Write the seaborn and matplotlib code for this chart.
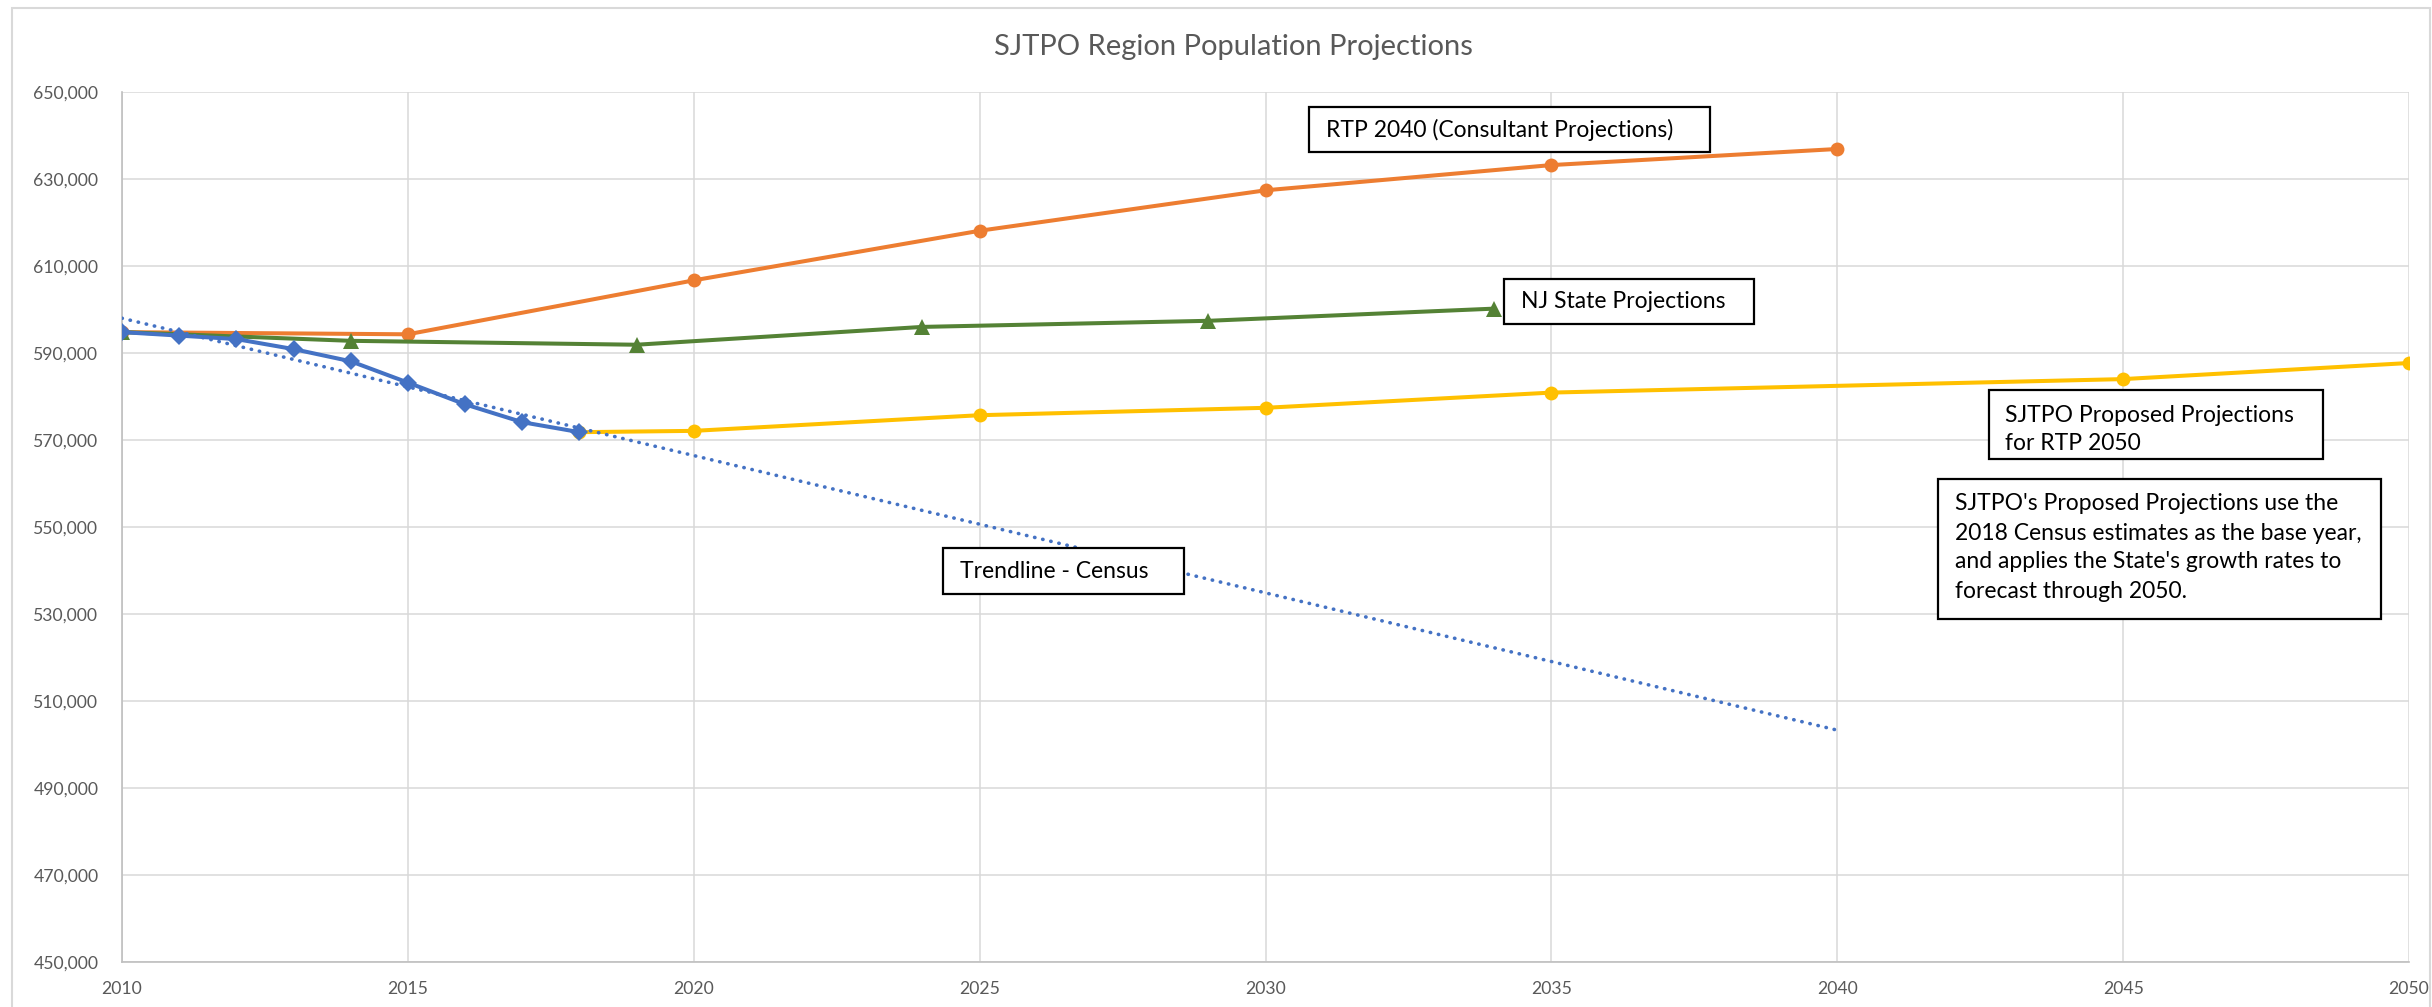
import numpy as np
import pandas as pd
import matplotlib
matplotlib.use("Agg")
import matplotlib.pyplot as plt
import matplotlib.patches as patches
import seaborn as sns

# --- data ---
census_years = [2010, 2011, 2012, 2013, 2014, 2015, 2016, 2017, 2018]
census_pop = [594800, 594000, 593200, 590900, 588100, 583200, 578200, 574100, 571800]

rtp_years = [2010, 2015, 2020, 2025, 2030, 2035, 2040]
rtp_pop = [594800, 594300, 606700, 618100, 627400, 633200, 636900]

nj_years = [2010, 2014, 2019, 2024, 2029, 2034]
nj_pop = [594800, 592800, 591900, 596000, 597400, 600200]

sjtpo_years = [2018, 2020, 2025, 2030, 2035, 2045, 2050]
sjtpo_pop = [571800, 572100, 575700, 577400, 580900, 584000, 587700]

trend_years = [2010, 2040]

title = "SJTPO Region Population Projections"
y_ticks = list(range(450000, 650001, 20000))
x_ticks = list(range(2010, 2051, 5))

W, H = 2432, 1007
GRAY = "#595959"

sns.set_theme(style="white")
plt.rcParams['font.family'] = ['Lato', 'DejaVu Sans']

fig = plt.figure(figsize=(W / 100, H / 100), dpi=100)


def fx(px):
    return px / W


def fy(py):
    return 1 - py / H


ax = fig.add_axes([fx(122), fy(962), fx(2409) - fx(122), fy(92) - fy(962)])

blue, orange, green, yellow = "#4472C4", "#ED7D31", "#548235", "#FFC000"

# trendline: linear fit of census estimates
coef = np.polyfit(census_years, census_pop, 1)
trend = pd.DataFrame({"year": trend_years, "pop": np.polyval(coef, trend_years)})
ax.plot(trend["year"], trend["pop"], color=blue, lw=2.6, linestyle=(0, (0.1, 2.2)),
        dash_capstyle="round", zorder=6)

sns.lineplot(x=rtp_years, y=rtp_pop, ax=ax, color=orange, lw=2.9, marker="o",
             markersize=10, markeredgewidth=0, zorder=3)
sns.lineplot(x=nj_years, y=nj_pop, ax=ax, color=green, lw=2.9, marker="^",
             markersize=11, markeredgewidth=0, zorder=4)
sns.lineplot(x=sjtpo_years, y=sjtpo_pop, ax=ax, color=yellow, lw=2.9, marker="o",
             markersize=10, markeredgewidth=0, zorder=4)
sns.lineplot(x=census_years, y=census_pop, ax=ax, color=blue, lw=2.9, marker="D",
             markersize=9, markeredgewidth=0, zorder=5)

ax.set_xlim(2010, 2050)
ax.set_ylim(450000, 650000)
ax.set_xticks(x_ticks)
ax.set_xticks(range(2010, 2051), minor=True)
ax.set_yticks(y_ticks)
ax.set_yticklabels([f"{v:,}" for v in y_ticks])
ax.set_xticklabels([str(v) for v in x_ticks])
ax.grid(True, which="major", color="#d9d9d9", lw=1.1)
ax.set_axisbelow(True)
for s in ["top", "right"]:
    ax.spines[s].set_visible(False)
for s in ["left", "bottom"]:
    ax.spines[s].set_color("#bfbfbf")
    ax.spines[s].set_linewidth(1.2)
ax.tick_params(axis="y", length=0, pad=17, labelsize=12.7, labelcolor=GRAY)
ax.tick_params(axis="x", which="major", direction="in", length=4, color="#bfbfbf",
               pad=14, labelsize=12.7, labelcolor=GRAY)
ax.tick_params(axis="x", which="minor", direction="in", length=4, color="#bfbfbf",
               width=1)
ax.set_xlabel("")
ax.set_ylabel("")

fig.text(fx(1233), fy(47), title, ha="center", va="center", fontsize=21, color=GRAY)

# chart area border
fig.patches.append(patches.Rectangle((fx(12), fy(1010)), fx(2430) - fx(12),
                                     fy(8) - fy(1010), transform=fig.transFigure,
                                     fill=False, ec="#d9d9d9", lw=1.5))


def label_box(x0, y0, x1, y1, lines, tx, ty, spacing=29):
    fig.patches.append(patches.Rectangle((fx(x0), fy(y1)), fx(x1) - fx(x0),
                                         fy(y0) - fy(y1), transform=fig.transFigure,
                                         fc="white", ec="black", lw=1.6, zorder=10))
    for i, ln in enumerate(lines):
        fig.text(fx(tx), fy(ty + i * spacing), ln, ha="left", va="center",
                 fontsize=16.5, color="black", zorder=11)


label_box(1309, 107, 1710, 152, ["RTP 2040 (Consultant Projections)"], 1326, 130)
label_box(1504, 279, 1754, 324, ["NJ State Projections"], 1521, 302)
label_box(1989, 390, 2323, 459, ["SJTPO Proposed Projections", "for RTP 2050"],
          2005, 415, spacing=28)
label_box(1938, 479, 2381, 619,
          ["SJTPO's Proposed Projections use the",
           "2018 Census estimates as the base year,",
           "and applies the State's growth rates to",
           "forecast through 2050."], 1955, 504, spacing=29)
label_box(943, 548, 1184, 594, ["Trendline - Census"], 960, 572)

fig.savefig("out.png", dpi=100, facecolor="white")
